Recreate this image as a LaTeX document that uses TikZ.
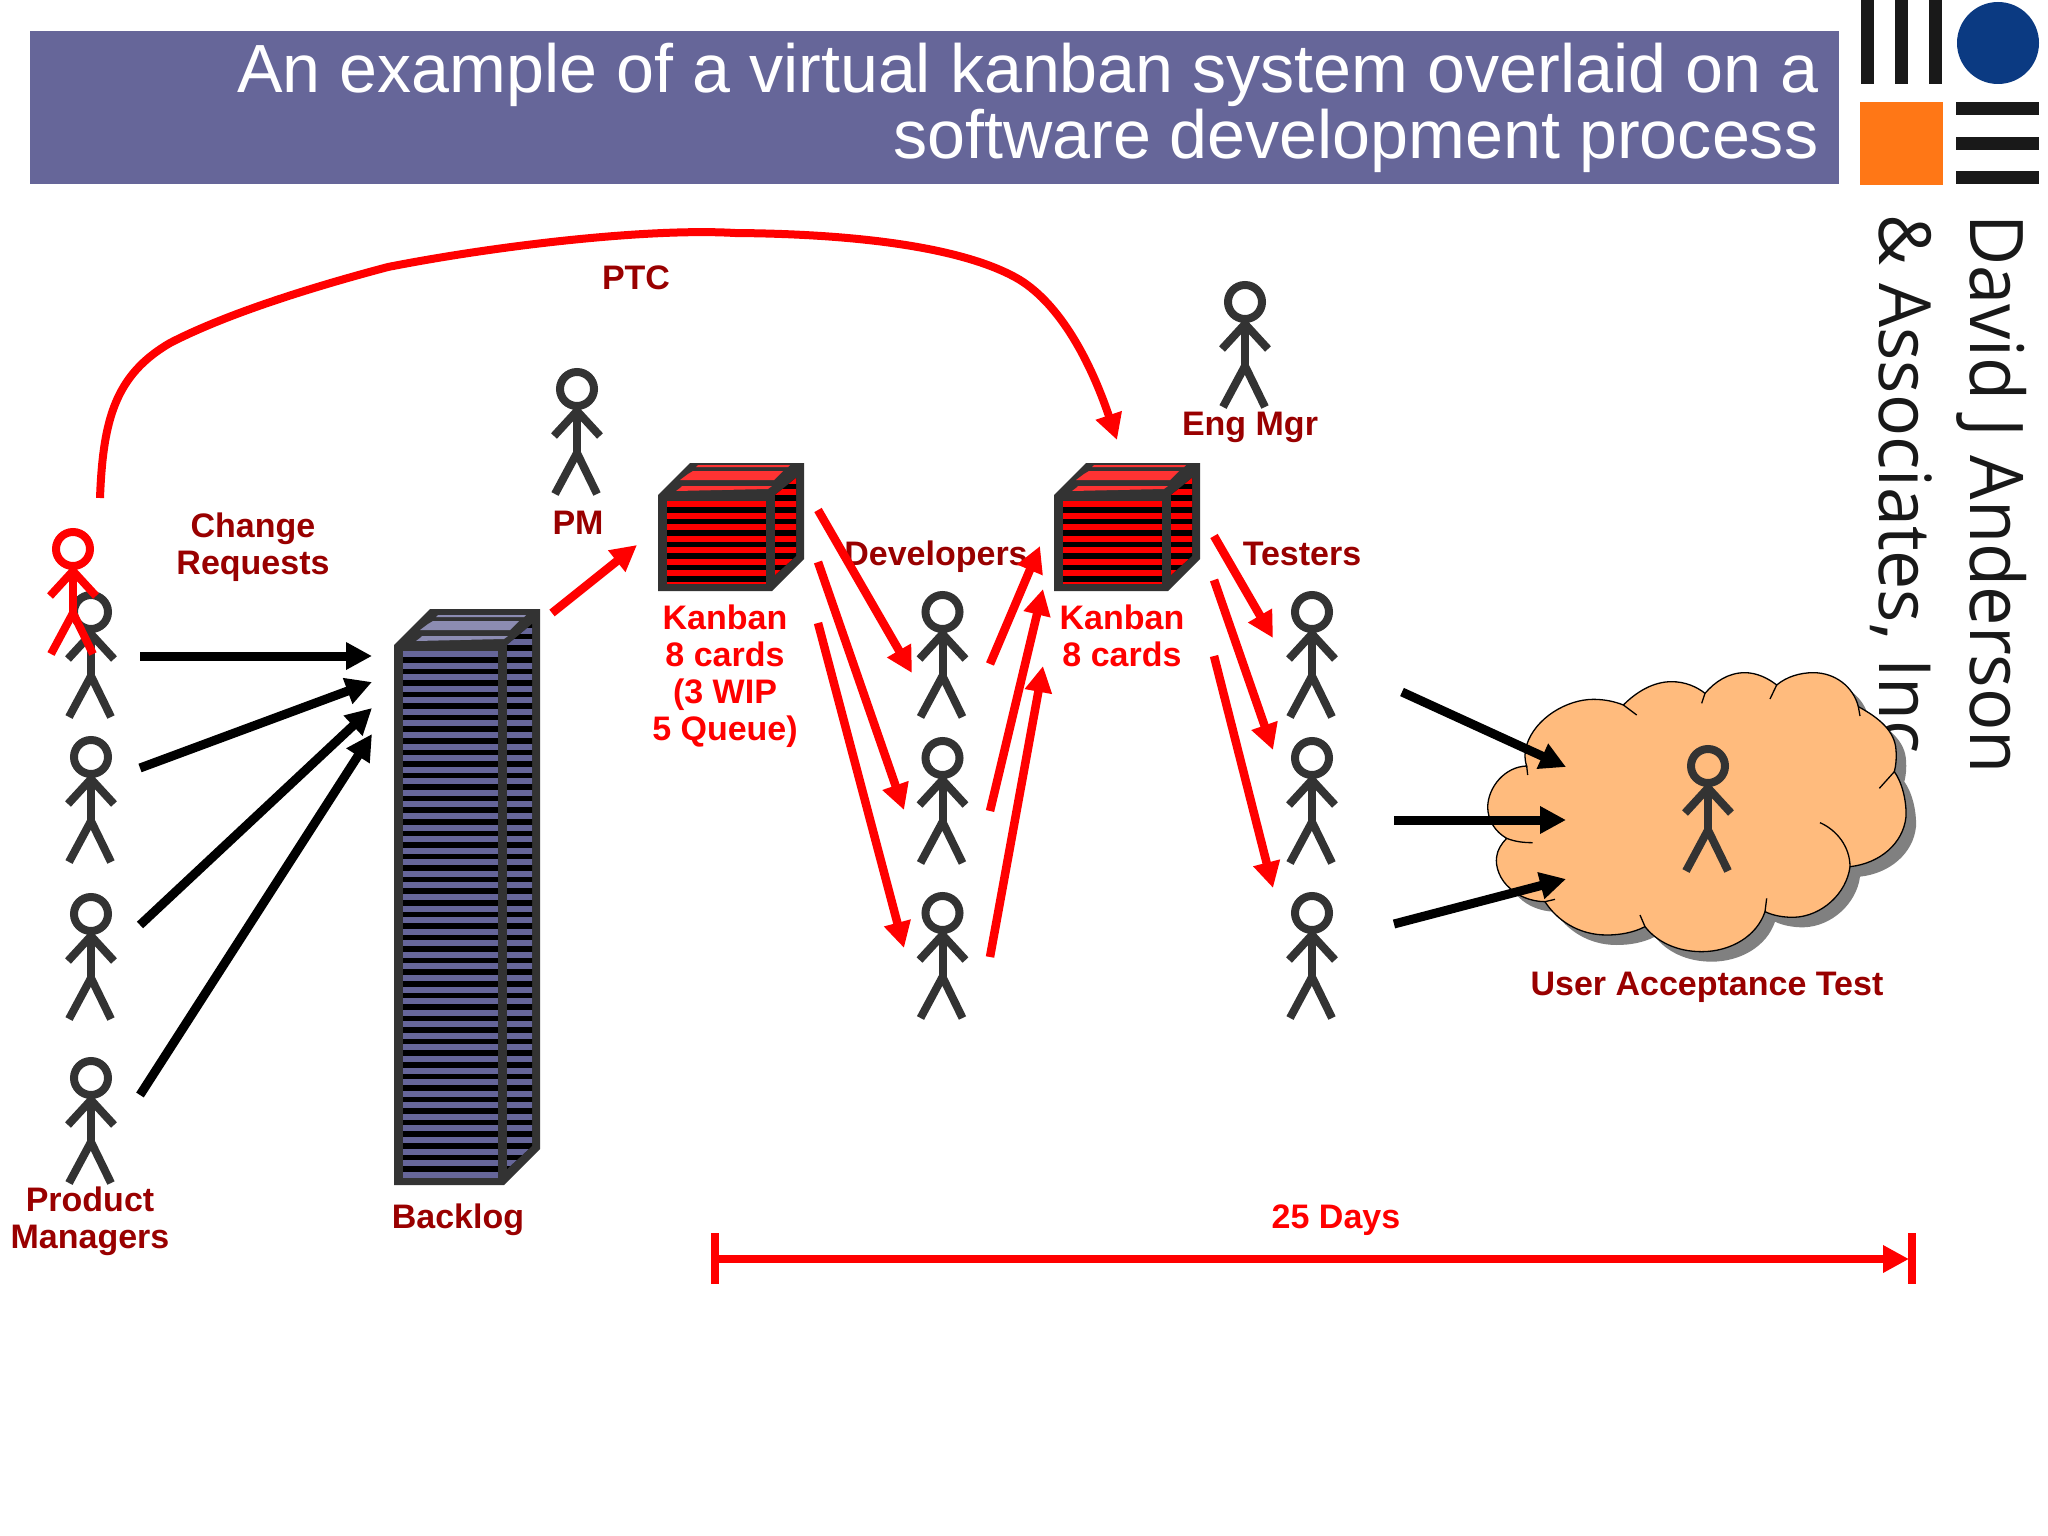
\documentclass[tikz,border=0pt]{standalone}
\usepackage{fontspec}
\setmainfont{Liberation Sans}
\newfontfamily\logofont{Open Sans}
\usetikzlibrary{arrows.meta}
\definecolor{barblue}{HTML}{666699}
\definecolor{framegrey}{HTML}{333333}
\definecolor{darkred}{HTML}{990000}
\definecolor{cloudfill}{HTML}{FFBB7D}
\definecolor{logoblue}{HTML}{0B3A82}
\definecolor{logoorange}{HTML}{FF7716}
\tikzset{
  lbl/.style={font=\bfseries\fontsize{34}{36.7}\selectfont,inner sep=0pt,anchor=base,align=center},
  redlbl/.style={lbl,text=red},
  darklbl/.style={lbl,text=darkred},
  redarrow/.style={draw=red,line width=8.5pt,-{Triangle[length=26pt,width=26pt]}},
  blackarrow/.style={draw=black,line width=9pt,-{Triangle[length=26pt,width=26pt]}},
  logobar/.style={fill=black!90},
  pics/stickman/.style={code={
    \draw[line width=8pt,#1] (0,0) ellipse[x radius=17,y radius=17];
    \draw[line width=8pt,#1] (-23,47) -- (0,22) -- (23,47);
    \draw[line width=8pt,#1] (0,18) -- (0,65);
    \draw[line width=8pt,#1] (-22,105) -- (0,64) -- (20,105);
  }}
}
\newcommand{\stackbox}[8]{%
  \begin{scope}[shift={(#1,#2)}]
    \fill[framegrey] (0,#5) -- (#5,0) -- (#3+#5,0) -- (#3+#5,#4) -- (#3,#4+#5) -- (0,#4+#5) -- cycle;
    \begin{scope}
      \clip (9,#5+6) rectangle (#3-6,#4+#5-8);
      \fill[black] (9,#5+6) rectangle (#3-6,#4+#5-8);
      \foreach \k in {0,...,#8}
        \fill[#6] (9,{#5+6+\k*11.57}) rectangle (#3-6,{#5+12+\k*11.57});
    \end{scope}
    \begin{scope}
      \clip (#3+3,#5) -- (#3+#5-8,15) -- (#3+#5-8,#4-3) -- (#3+3,#4+#5-16) -- cycle;
      \fill[black] (#3+3,0) rectangle (#3+#5,#4+#5);
      \foreach \k in {-3,...,#8}
        \fill[#6] (#3+3,{#5+6+\k*11.57}) rectangle (#3+#5,{#5+12+\k*11.57});
    \end{scope}
    \fill[#7] (#5-10,#5-7) -- (#5-8,#5-9) -- (#3+#5-32,#5-9) -- (#3+#5-36,#5-6) -- (#5-14,#5-4) -- cycle;
    \fill[#7] (#5-2,#5-21) -- (#5+3,#5-24) -- (#3+#5-21,#5-24) -- (#3+#5-30,#5-15) -- (#5-10,#5-15) -- cycle;
    \fill[#7] (#5+8,#5-30) -- (#3+#5-14,#5-30) -- (#3+#5-16,#5-28) -- (#5+6,#5-28) -- cycle;
  \end{scope}}
\newcommand{\cloudpath}{(200,285) .. controls (225,205) and (320,148) .. (400,148)
 .. controls (435,148) and (465,155) .. (490,165)
 .. controls (530,125) and (580,95) .. (635,95)
 .. controls (675,95) and (710,110) .. (735,130)
 .. controls (765,95) and (805,68) .. (855,68)
 .. controls (890,68) and (925,85) .. (950,105)
 .. controls (980,80) and (1020,68) .. (1060,68)
 .. controls (1125,68) and (1180,110) .. (1195,170)
 .. controls (1260,205) and (1305,245) .. (1308,300)
 .. controls (1310,325) and (1308,345) .. (1303,365)
 .. controls (1325,395) and (1340,450) .. (1338,500)
 .. controls (1330,580) and (1260,640) .. (1170,650)
 .. controls (1160,730) and (1085,800) .. (1000,802)
 .. controls (970,802) and (940,797) .. (915,785)
 .. controls (890,860) and (810,905) .. (725,905)
 .. controls (650,905) and (590,875) .. (555,830)
 .. controls (520,848) and (480,855) .. (440,855)
 .. controls (355,855) and (290,810) .. (255,755)
 .. controls (210,755) and (170,735) .. (150,715)
 .. controls (120,690) and (105,650) .. (110,620)
 .. controls (112,600) and (125,580) .. (140,565)
 .. controls (105,545) and (83,510) .. (83,470)
 .. controls (85,410) and (135,350) .. (200,348)
 .. controls (192,325) and (195,300) .. (200,285) -- cycle}
\begin{document}
\begin{tikzpicture}[x=1pt,y=-1pt]
\useasboundingbox (0,0) rectangle (2048,1536);
\fill[white] (0,0) rectangle (2048,1536);
% title bar
\fill[barblue] (30,31) rectangle (1839,184);
\node[inner sep=0pt,anchor=base east,align=right,text=white,font=\fontsize{68.2}{65.5}\selectfont] (title) at (1818.5,158)
  {An example of a virtual kanban system overlaid on a\\software development process};
% logo
\fill[logobar] (1861,0) rectangle (1874,84);
\fill[logobar] (1895,0) rectangle (1908,84);
\fill[logobar] (1929,0) rectangle (1942,84);
\fill[logoblue] (1998,43) circle[radius=41];
\fill[logoorange] (1860,102) rectangle (1943,185);
\fill[logobar] (1956,102) rectangle (2039,115);
\fill[logobar] (1956,137) rectangle (2039,150);
\fill[logobar] (1956,171) rectangle (2039,184);
\node[rotate=-90,anchor=base west,inner sep=0pt,font=\logofont\fontsize{74}{74}\selectfont,text=black!90] (logoa) at (1970,214) {\scalebox{0.95}[1]{David J Anderson}};
\node[rotate=-90,anchor=base west,inner sep=0pt,font=\logofont\fontsize{72}{72}\selectfont,text=black!90] (logob) at (1879,214) {\scalebox{0.97}[1]{\& Associates, Inc}};
% cloud
\begin{scope}[shift={(1470,660)},x=0.33333pt,y=-0.33333pt]
  \fill[gray] \cloudpath;
\end{scope}
\begin{scope}[shift={(1460,650)},x=0.33333pt,y=-0.33333pt]
  \filldraw[fill=cloudfill,draw=black,line width=1.3pt] \cloudpath;
  \draw[line width=1.3pt] (200,348) -- (203,375);
  \draw[line width=1.3pt] (490,165) -- (530,195);
  \draw[line width=1.3pt] (735,130) -- (725,160);
  \draw[line width=1.3pt] (950,105) -- (930,147);
  \draw[line width=1.3pt] (1195,170) -- (1200,198);
  \draw[line width=1.3pt] (1303,365) -- (1258,415);
  \draw[line width=1.3pt] (1080,518) .. controls (1130,540) and (1170,590) .. (1170,650);
  \draw[line width=1.3pt] (920,745) -- (915,785);
  \draw[line width=1.3pt] (540,795) -- (555,830);
  \draw[line width=1.3pt] (255,755) -- (285,748);
  \draw[line width=1.3pt] (140,565) .. controls (165,575) and (190,578) .. (218,578);
\end{scope}
% boxes
\stackbox{394}{609}{110}{540}{36}{barblue}{barblue!75!white}{46}
\stackbox{658}{463}{114}{96}{32}{red}{red!80!white}{8}
\stackbox{1054}{463}{114}{96}{32}{red}{red!80!white}{8}
% people
\pic at (91,612) {stickman={draw=framegrey}};
\pic at (91,757) {stickman={draw=framegrey}};
\pic at (91,914) {stickman={draw=framegrey}};
\pic at (91,1078) {stickman={draw=framegrey}};
\pic at (73,549) {stickman={draw=red}};
\pic at (577,389) {stickman={draw=framegrey}};
\pic at (1245,302) {stickman={draw=framegrey}};
\pic at (942.5,612) {stickman={draw=framegrey}};
\pic at (942.5,758) {stickman={draw=framegrey}};
\pic at (942.5,913) {stickman={draw=framegrey}};
\pic at (1312,612) {stickman={draw=framegrey}};
\pic at (1312,758) {stickman={draw=framegrey}};
\pic at (1312,913) {stickman={draw=framegrey}};
\pic at (1708,766) {stickman={draw=framegrey}};
% labels
\node[darklbl] (ptc) at (636,289) {PTC};
\node[darklbl] (chg) at (253,574) {Change\\Requests};
\node[darklbl] (pm) at (578,534) {PM};
\node[darklbl] (eng) at (1250,435) {Eng Mgr};
\node[darklbl] (devs) at (936,565) {Developers};
\node[darklbl] (test) at (1302,565) {Testers};
\node[redlbl] (kan1) at (725,740) {Kanban\\8 cards\\(3 WIP\\5 Queue)};
\node[redlbl] (kan2) at (1122,666) {Kanban\\8 cards};
\node[darklbl] (pmgr) at (90,1248) {Product\\Managers};
\node[darklbl] (back) at (458,1228) {Backlog};
\node[darklbl] (uat) at (1707,995) {User Acceptance Test};
\node[redlbl] (days) at (1336,1228) {25 Days};
% connector ends
\foreach \n/\x/\y in {a1/140/656,a2/372/656,b1/140/768,b2/372/682,c1/140/925,c2/372/708,d1/140/1095,d2/372/734,
  e1/552/613,e2/637/545,
  f1/818/510,f2/912/673,g1/818/562,g2/904/810,h1/818/623,h2/904/948,
  i1/990/664,i2/1040/546,j1/990/811,j2/1043/589,k1/990/957,k2/1043/666,
  l1/1214/536,l2/1273/638,m1/1214/580,m2/1273/750,n1/1214/656,n2/1273/888,
  o1/1402/692,o2/1566/767,p1/1394/820,p2/1566/820,q1/1394/924,q2/1566/879,
  r1/714/1259,r2/1909/1259,s1/714.5/1233,s2/714.5/1284,t1/1912/1233,t2/1912/1284,
  u1/100/498,u2/1117/440}
  \coordinate (\n) at (\x,\y);
\draw[blackarrow] (a1) -- (a2);
\draw[blackarrow] (b1) -- (b2);
\draw[blackarrow] (c1) -- (c2);
\draw[blackarrow] (d1) -- (d2);
\draw[redarrow] (e1) -- (e2);
\draw[redarrow] (f1) -- (f2);
\draw[redarrow] (g1) -- (g2);
\draw[redarrow] (h1) -- (h2);
\draw[redarrow] (i1) -- (i2);
\draw[redarrow] (j1) -- (j2);
\draw[redarrow] (k1) -- (k2);
\draw[redarrow] (l1) -- (l2);
\draw[redarrow] (m1) -- (m2);
\draw[redarrow] (n1) -- (n2);
\draw[blackarrow] (o1) -- (o2);
\draw[blackarrow] (p1) -- (p2);
\draw[blackarrow] (q1) -- (q2);
\draw[redarrow] (r1) -- (r2);
\draw[draw=red,line width=8pt] (s1) -- (s2);
\draw[draw=red,line width=8pt] (t1) -- (t2);
\draw[draw=red,line width=8pt,-{Triangle[length=26pt,width=26pt]}] (u1)
  .. controls (103,420) and (115,375) .. (170,343)
  .. controls (230,312) and (320,285) .. (388,267)
  .. controls (500,245) and (650,228) .. (735,233)
  .. controls (870,234) and (970,250) .. (1020,280)
  .. controls (1060,305) and (1090,360) .. (u2);
\end{tikzpicture}
\end{document}
